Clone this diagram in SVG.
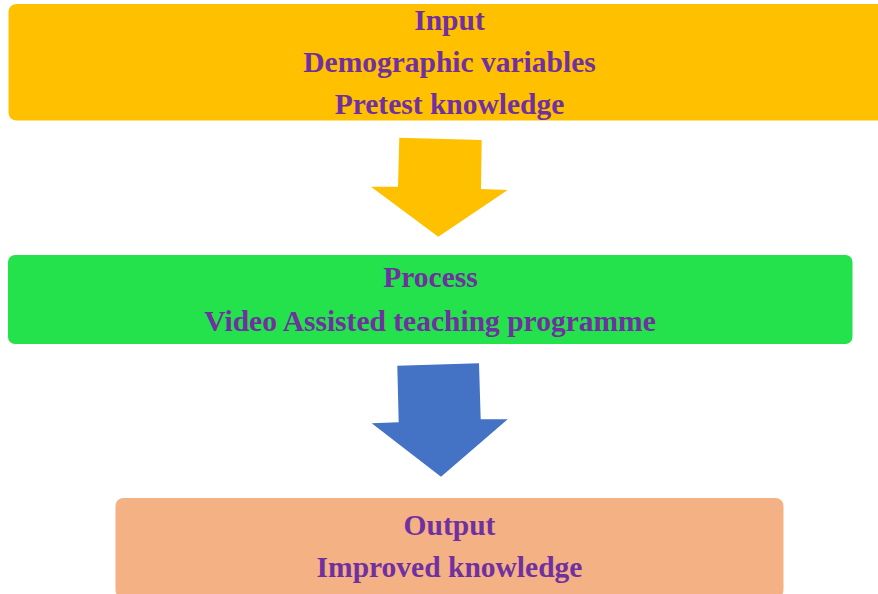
<svg xmlns="http://www.w3.org/2000/svg" width="878" height="594" viewBox="0 0 878 594">
<style>
.t{font-family:"Liberation Serif","Times New Roman",serif;font-weight:bold;font-size:29.5px;fill:#7030A0;text-anchor:middle}
</style>
<rect width="878" height="594" fill="#ffffff"/>
<g id="input">
<rect x="8.5" y="4" width="885" height="116.5" rx="8" fill="#FFC000"/>
<text class="t" x="449.5" y="29.5">Input</text>
<text class="t" x="449.5" y="72">Demographic variables</text>
<text class="t" x="449.5" y="113.5">Pretest knowledge</text>
</g>
<g id="process">
<rect x="8" y="255" width="844.5" height="89" rx="7" fill="#23E24B"/>
<text class="t" x="430.5" y="286.5">Process</text>
<text class="t" x="430" y="330.5">Video Assisted teaching programme</text>
</g>
<g id="output">
<rect x="115.5" y="498" width="668" height="100" rx="8" fill="#F4B183"/>
<text class="t" x="449.5" y="534.5">Output</text>
<text class="t" x="449.5" y="577">Improved knowledge</text>
</g>
<g id="connectors">
<polygon points="399.3,137.7 481.7,140 481,189 507.7,190 438.3,236.7 371,186.7 398,186.7" fill="#FFC000"/>
<polygon points="397.3,365.7 479,363.3 480.7,419.3 507.7,419.3 441,476.7 371.7,423.3 398.7,422.3" fill="#4472C4"/>
</g>
</svg>
